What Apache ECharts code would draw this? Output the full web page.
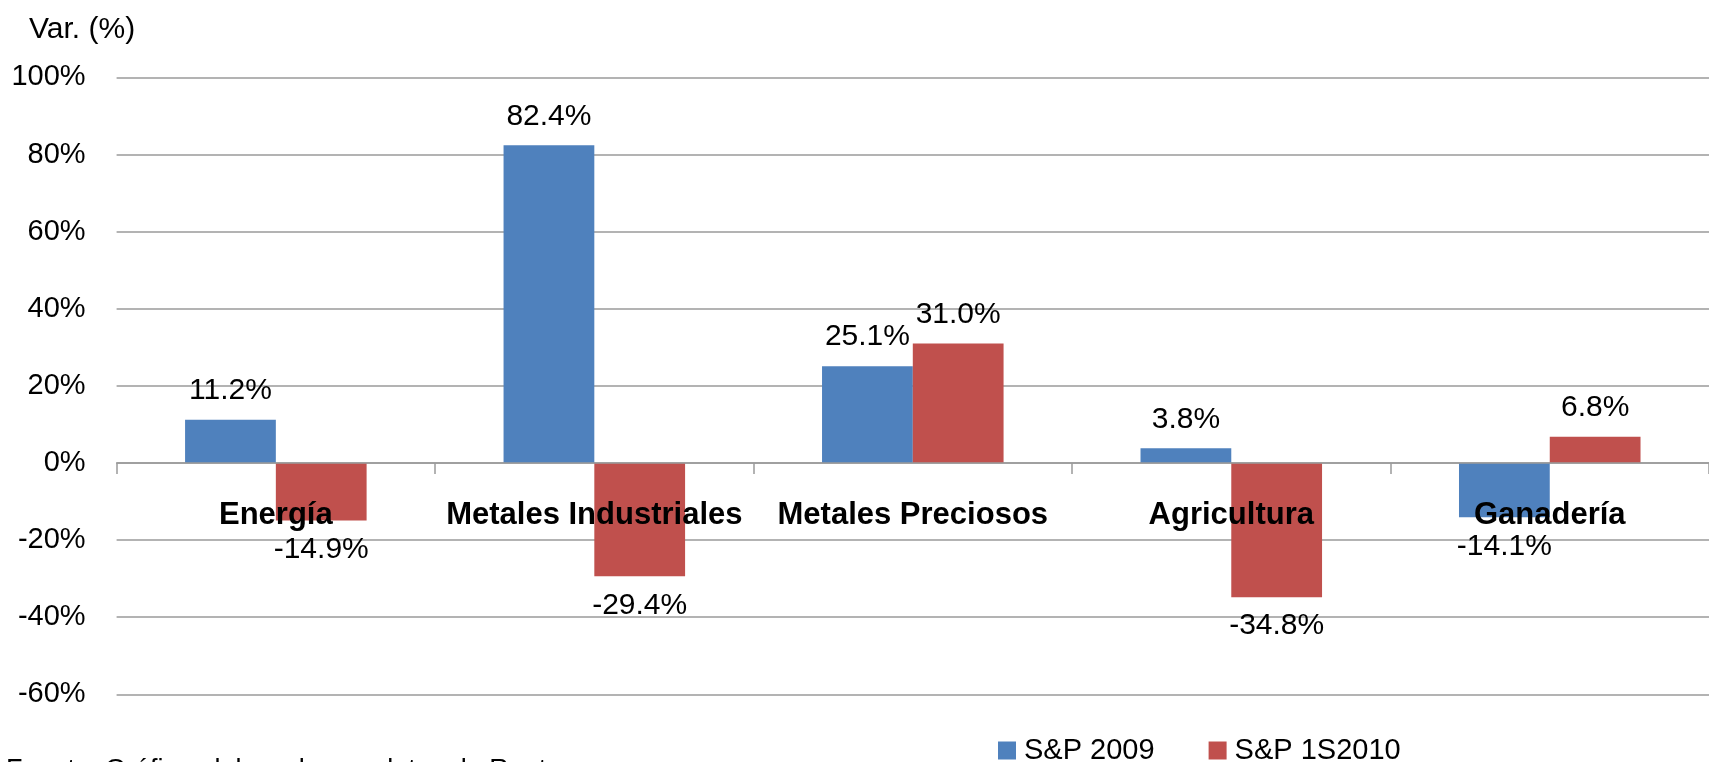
<!DOCTYPE html>
<html>
<head>
<meta charset="utf-8">
<script src="https://cdn.jsdelivr.net/npm/echarts@6/dist/echarts.min.js"></script>
<style>
html,body{margin:0;padding:0;background:#fff;}
#c{width:1709px;height:762px;}
</style>
</head>
<body>
<div id="c"></div>
<script>
const categories = ['Energía', 'Metales Industriales', 'Metales Preciosos', 'Agricultura', 'Ganadería'];
const sp2009 = [11.2, 82.4, 25.1, 3.8, -14.1];
const sp1s2010 = [-14.9, -29.4, 31.0, -34.8, 6.8];
const seriesNames = ['S&P 2009', 'S&P 1S2010'];
const yTicks = { min: -60, max: 100, interval: 20 };
const yTitle = 'Var. (%)';
const sourceNote = 'Fuente: Gráfico elaborado con datos de Reuters';

const FONT = '"Liberation Sans", Arial, sans-serif';
const GRID = '#9a9a9a';
const GRID_TOP = 77.4, GRID_H = 616.9;
// move the category axis (line, ticks, labels) up to the zero line
const zeroOffset = -GRID_H * (0 - yTicks.min) / (yTicks.max - yTicks.min);

function toData(arr) {
  return arr.map(v => ({ value: v, label: { position: v < 0 ? 'bottom' : 'top' } }));
}
const labelCommon = {
  show: true,
  distance: 14,
  fontFamily: FONT,
  fontSize: 30,
  color: '#000',
  formatter: p => p.value.toFixed(1) + '%'
};

const chart = echarts.init(document.getElementById('c'), null, { renderer: 'canvas' });
chart.setOption({
  animation: false,
  backgroundColor: '#fff',
  title: {
    text: yTitle, left: 24, top: 10,
    textStyle: { fontFamily: FONT, fontSize: 30, fontWeight: 'normal', color: '#000' }
  },
  graphic: [{
    type: 'text', left: 6, top: 757,
    style: { text: sourceNote, fontFamily: FONT, fontSize: 27, fill: '#000' }
  }],
  legend: {
    data: seriesNames,
    left: 993, top: 731,
    icon: 'rect', itemWidth: 18, itemHeight: 18, itemGap: 54,
    textStyle: { fontFamily: FONT, fontSize: 29, color: '#000', padding: [0, 0, 0, 3] }
  },
  grid: { left: 116.6, top: GRID_TOP, width: 1605, height: GRID_H, containLabel: false },
  xAxis: {
    type: 'category',
    data: categories,
    position: 'bottom',
    offset: zeroOffset,
    z: 10,
    axisLine: { show: true, onZero: false, lineStyle: { color: GRID, width: 1.5 } },
    axisTick: { show: true, length: 11, lineStyle: { color: GRID, width: 1.5 } },
    axisLabel: { margin: 37, fontFamily: FONT, fontSize: 31, fontWeight: 'bold', color: '#000', interval: 0 }
  },
  yAxis: {
    type: 'value',
    min: yTicks.min, max: yTicks.max, interval: yTicks.interval,
    axisLine: { show: false },
    axisTick: { show: false },
    splitLine: { lineStyle: { color: GRID, width: 1.5 } },
    axisLabel: { margin: 31, fontFamily: FONT, fontSize: 29, color: '#000', formatter: '{value}%' }
  },
  series: [
    { name: seriesNames[0], type: 'bar', data: toData(sp2009), itemStyle: { color: '#4F81BD' },
      barGap: '0%', barCategoryGap: '43%', label: labelCommon },
    { name: seriesNames[1], type: 'bar', data: toData(sp1s2010), itemStyle: { color: '#C0504D' },
      barGap: '0%', barCategoryGap: '43%', label: labelCommon }
  ]
});
</script>
</body>
</html>
